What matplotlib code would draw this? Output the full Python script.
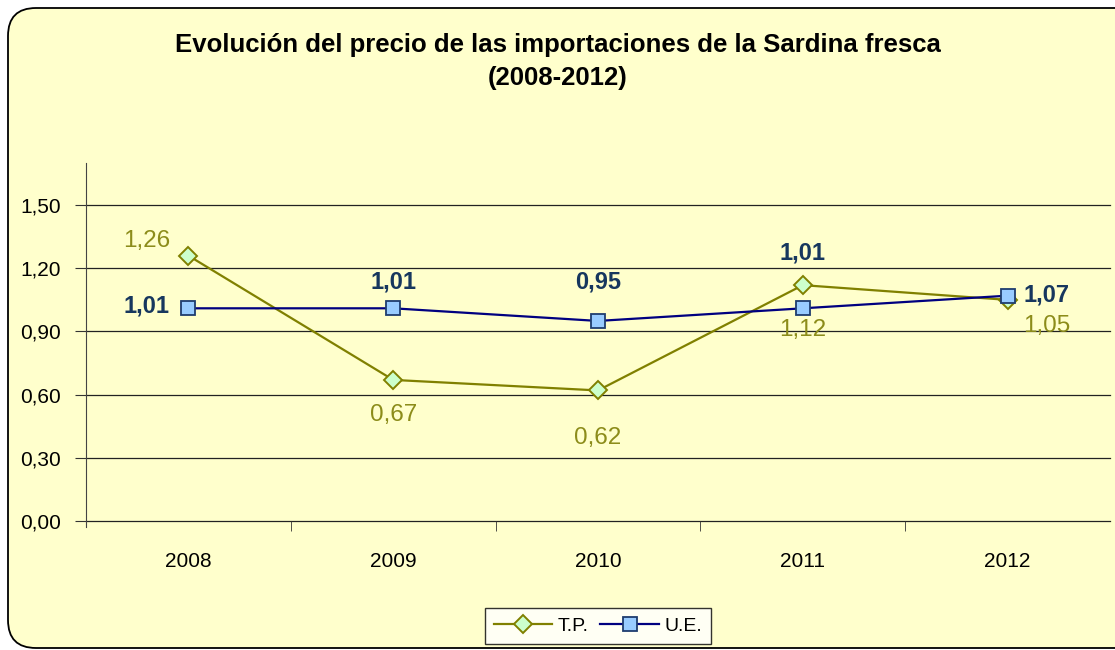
import matplotlib.pyplot as plt
import numpy as np
from matplotlib.patches import FancyBboxPatch

# DATA
years = ['2008', '2009', '2010', '2011', '2012']
tp = [1.26, 0.67, 0.62, 1.12, 1.05]
ue = [1.01, 1.01, 0.95, 1.01, 1.07]
y_ticks = [0.0, 0.3, 0.6, 0.9, 1.2, 1.5]

plt.rcParams['font.family'] = ['Liberation Sans', 'DejaVu Sans']

bg = '#FFFFCC'
olive = '#808000'
navy = '#000080'
label_navy = '#17375E'
label_olive = '#8C8C1A'

fig = plt.figure(figsize=(11.15, 6.5), dpi=100)
fig.patch.set_facecolor('white')

# rounded frame (pixel coords), kept behind the axes
frame = FancyBboxPatch((8, 2), 1140, 640, boxstyle='round,pad=0,rounding_size=28',
                       transform=None, facecolor=bg, edgecolor='black', linewidth=1.3,
                       zorder=-10)
fig.patches.append(frame)

ax = fig.add_axes([86 / 1115, 1 - 521 / 650, 1024 / 1115, (521 - 163) / 650])
ax.set_facecolor('none')
ax.set_zorder(5)

x = np.arange(len(years))
ax.set_xlim(-0.5, len(years) - 0.5)
ax.set_ylim(0, 1.7)

for yv in y_ticks:
    ax.axhline(yv, color='#222222', lw=0.9, zorder=1, clip_on=False)

ax.plot(x, tp, color=olive, lw=1.6, marker='D', markersize=9.5,
        markerfacecolor='#CCFFCC', markeredgecolor=olive, markeredgewidth=1.4,
        label='T.P.', zorder=3)
ax.plot(x, ue, color=navy, lw=1.6, marker='s', markersize=10,
        markerfacecolor='#99CCFF', markeredgecolor='#1F3D6E', markeredgewidth=1.3,
        label='U.E.', zorder=4)

# data labels (offsets in points from the marker)
tp_off = [(-13, 10.8, 'right'), (0, -25, 'center'), (0, -34, 'center'),
          (0, -32, 'center'), (11, -18.5, 'left')]
ue_off = [(-13.7, 1.4, 'right'), (0, 18.7, 'center'), (0, 28, 'center'),
          (0, 39.6, 'center'), (11.5, 0.7, 'left')]
for i in range(len(years)):
    dx, dy, ha = tp_off[i]
    ax.annotate(f'{tp[i]:.2f}'.replace('.', ','), (x[i], tp[i]), xytext=(dx, dy),
                textcoords='offset points', ha=ha, va='center', fontsize=17.5,
                color=label_olive, zorder=5)
    dx, dy, ha = ue_off[i]
    ax.annotate(f'{ue[i]:.2f}'.replace('.', ','), (x[i], ue[i]), xytext=(dx, dy),
                textcoords='offset points', ha=ha, va='center', fontsize=17,
                fontweight='bold', color=label_navy, zorder=5)

ax.set_yticks(y_ticks)
ax.set_yticklabels([f'{v:.2f}'.replace('.', ',') for v in y_ticks], fontsize=15)
ax.set_xticks(x)
ax.set_xticklabels(years, fontsize=15)
ax.set_xticks(np.arange(0.5, len(years) - 0.5, 1), minor=True)
ax.tick_params(axis='x', which='major', length=0, pad=22)
ax.tick_params(axis='x', which='minor', length=7, direction='out', color='#333333')
ax.tick_params(axis='y', length=8, direction='out', color='#333333', pad=10)

for s in ['top', 'right']:
    ax.spines[s].set_visible(False)
ax.spines['bottom'].set_visible(False)
ax.spines['left'].set_color('#444444')
ax.spines['left'].set_bounds(-0.03, 1.7)

fig.text(0.5, 1 - 45 / 650, 'Evolución del precio de las importaciones de la Sardina fresca',
         ha='center', va='center', fontsize=18.5, fontweight='bold')
fig.text(0.5, 1 - 78 / 650, '(2008-2012)', ha='center', va='center', fontsize=18.5,
         fontweight='bold')

leg = fig.legend(loc='center', bbox_to_anchor=(598 / 1115, 1 - 626 / 650), ncol=2,
                 fontsize=14, frameon=True, fancybox=False, edgecolor='black',
                 handlelength=3, columnspacing=0.6, handletextpad=0.3, borderpad=0.45)
leg.get_frame().set_facecolor('white')
leg.get_frame().set_linewidth(1.0)

fig.savefig('out.png', dpi=100, facecolor=fig.get_facecolor())
